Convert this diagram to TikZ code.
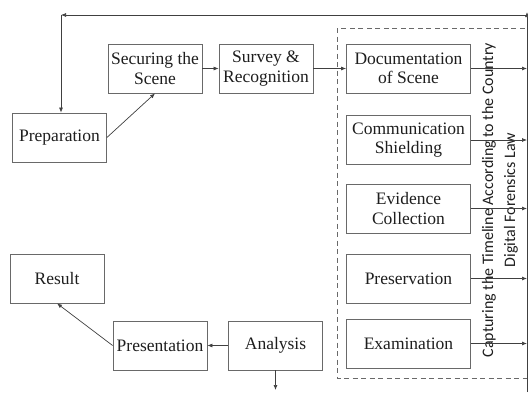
\documentclass[tikz,border=0pt]{standalone}
\usepackage{fontspec}
\setmainfont{Liberation Serif}
\newfontfamily\lawfont{Carlito}
\usetikzlibrary{arrows.meta}
\definecolor{edgegray}{RGB}{105,105,105}
\definecolor{inkgray}{RGB}{30,30,30}

\begin{document}
\begin{tikzpicture}[x=1pt,y=-1pt,
  stage/.style={draw=edgegray,line width=0.8pt,minimum width=94pt,
                minimum height=49pt,inner sep=1pt,align=center,text=inkgray,
                font=\fontsize{17.5}{19.5}\selectfont},
  widestage/.style={stage,minimum width=124pt},
  flow/.style={draw=inkgray!85,line width=0.7pt,-{Latex[length=5pt,width=4pt]}},
]
\useasboundingbox (0,0) rectangle (528,392);

% dashed group round the scene tasks
\draw[edgegray,line width=0.8pt,dash pattern=on 5pt off 3.5pt] (337,28) rectangle (527,378);

\node[stage] (prep) at (59.5,137.5) {Preparation};
\node[stage] (secure) at (155,68.5) {Securing the\\Scene};
\node[stage] (survey) at (266,68.5) {Survey \&\\Recognition};

\node[widestage] (doc) at (408.5,68.5) {Documentation\\of Scene};
\node[widestage] (shield) at (408.5,140) {Communication\\Shielding};
\node[widestage] (collect) at (408.5,208.5) {Evidence\\Collection};
\node[widestage] (preserve) at (408.5,278.5) {Preservation};
\node[widestage] (exam) at (408.5,343.5) {Examination};

\node[stage] (result) at (57,278.5) {Result};
\node[stage] (present) at (160,345.5) {Presentation};
\node[stage] (analysis) at (275.5,345.5) {Analysis};

\node[rotate=90,align=center,text=inkgray,
      font=\lawfont\fontsize{16}{22}\selectfont] (law) at (500,200)
  {Capturing the Timeline According to the Country\\Digital Forensics Law};

\coordinate (railbot) at (527,392);
\coordinate (railtop) at (527,15);
\coordinate (loopl) at (61,15);
\coordinate (out) at (275.5,390);

\draw[flow] (prep.east) -- (secure.south);
\draw[flow] (secure) -- (survey);
\draw[flow] (survey) -- (doc);
\foreach \n in {doc,shield,collect,preserve,exam}
  \draw[flow] (\n.east) -- (\n.east -| railtop);
\draw[flow] (railbot) -- ([yshift=3pt]railtop);
\draw[flow] (railtop) -- (loopl);
\draw[flow] (loopl) -- (loopl |- prep.north);
\draw[flow] (analysis) -- (present);
\draw[flow] (present.west) -- (result.south);
\draw[flow] (analysis.south) -- (out);
\end{tikzpicture}
\end{document}
